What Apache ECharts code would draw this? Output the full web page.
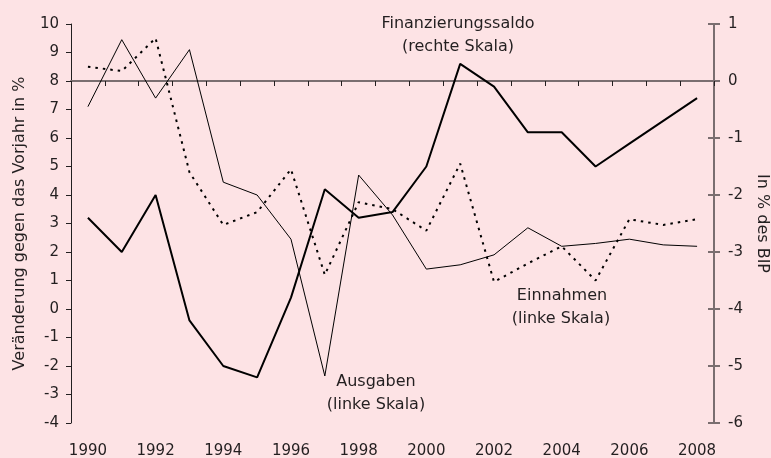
<!DOCTYPE html>
<html>
<head>
<meta charset="utf-8">
<script src="https://cdn.jsdelivr.net/npm/echarts@6/dist/echarts.min.js"></script>
<style>
  html, body { margin: 0; padding: 0; background: #fde3e5; }
  #main { width: 771px; height: 458px; }
</style>
</head>
<body>
<div id="main"></div>
<script>
var years = ['1990', '1991', '1992', '1993', '1994', '1995', '1996', '1997', '1998', '1999',
             '2000', '2001', '2002', '2003', '2004', '2005', '2006', '2007', '2008'];
// Veränderung gegen Vorjahr in % (linke Skala)
var ausgaben = [7.1, 9.45, 7.4, 9.1, 4.45, 4.0, 2.45, -2.35, 4.7, 3.3,
                1.4, 1.55, 1.9, 2.85, 2.2, 2.3, 2.45, 2.25, 2.2];
var einnahmen = [8.5, 8.35, 9.5, 4.8, 2.95, 3.4, 4.9, 1.2, 3.75, 3.5,
                 2.75, 5.1, 0.95, 1.6, 2.2, 1.0, 3.15, 2.95, 3.15];
// in % des BIP (rechte Skala)
var saldo = [-2.4, -3.0, -2.0, -4.2, -5.0, -5.2, -3.8, -1.9, -2.4, -2.3,
             -1.5, 0.3, -0.1, -0.9, -0.9, -1.5, -1.1, -0.7, -0.3];

var font = 'DejaVu Sans';
var ink = '#231f20';
var axisGrey = '#7a6e70';

var chart = echarts.init(document.getElementById('main'));

var option = {
    backgroundColor: '#fde3e5',
    animation: false,
    textStyle: { fontFamily: font, color: ink },
    grid: { left: 71, top: 24, width: 643, height: 399, outerBoundsMode: 'none', containLabel: false },
    xAxis: [
        {
            // Nulllinie der rechten Skala mit Ticks
            type: 'category',
            data: years,
            boundaryGap: true,
            axisLine: { onZero: true, onZeroAxisIndex: 1, lineStyle: { color: axisGrey, width: 2 } },
            axisTick: { show: true, interval: 0, length: 5, lineStyle: { color: ink, width: 1 } },
            axisLabel: { show: false },
            splitLine: { show: false }
        },
        {
            type: 'category',
            data: years,
            boundaryGap: true,
            position: 'bottom',
            axisLine: { show: false, onZero: false },
            axisTick: { show: false },
            axisLabel: { interval: 1, fontSize: 15, color: ink, fontFamily: font, margin: 21 },
            splitLine: { show: false }
        }
    ],
    yAxis: [
        {
            type: 'value',
            position: 'left',
            min: -4, max: 10, interval: 1,
            name: 'Veränderung gegen das Vorjahr in %',
            nameLocation: 'middle',
            nameGap: 43,
            nameTextStyle: { fontSize: 16, color: ink, fontFamily: font },
            axisLine: { show: true, lineStyle: { color: ink, width: 1 } },
            axisTick: { show: true, length: 5, lineStyle: { color: ink } },
            axisLabel: { fontSize: 15, color: ink, fontFamily: font, margin: 12 },
            splitLine: { show: false }
        },
        {
            type: 'value',
            position: 'right',
            min: -6, max: 1, interval: 1,
            name: 'In % des BIP',
            nameLocation: 'middle',
            nameRotate: -90,
            nameGap: 38,
            nameTextStyle: { fontSize: 16, color: ink, fontFamily: font },
            axisLine: { show: true, lineStyle: { color: axisGrey, width: 2 } },
            axisTick: { show: true, length: 6, lineStyle: { color: axisGrey, width: 2 } },
            axisLabel: { fontSize: 15, color: ink, fontFamily: font, margin: 14 },
            splitLine: { show: false }
        },
        {
            // Ticks der rechten Achse nach innen
            type: 'value',
            position: 'right',
            min: -6, max: 1, interval: 1,
            axisLine: { show: false },
            axisTick: { show: true, inside: true, length: 6, lineStyle: { color: axisGrey, width: 2 } },
            axisLabel: { show: false },
            splitLine: { show: false }
        }
    ],
    series: [
        {
            name: 'Ausgaben',
            type: 'line',
            data: ausgaben,
            yAxisIndex: 0,
            symbol: 'none',
            lineStyle: { color: '#000', width: 1 }
        },
        {
            name: 'Einnahmen',
            type: 'line',
            data: einnahmen,
            yAxisIndex: 0,
            symbol: 'none',
            lineStyle: { color: '#000', width: 2, type: [2.5, 5] }
        },
        {
            name: 'Finanzierungssaldo',
            type: 'line',
            data: saldo,
            yAxisIndex: 1,
            symbol: 'none',
            lineStyle: { color: '#000', width: 2 }
        }
    ],
    graphic: [
        { type: 'text', x: 458, y: 24, style: { text: 'Finanzierungssaldo', textAlign: 'center', textVerticalAlign: 'middle', font: '16px ' + font, fill: ink } },
        { type: 'text', x: 458, y: 47, style: { text: '(rechte Skala)', textAlign: 'center', textVerticalAlign: 'middle', font: '16px ' + font, fill: ink } },
        { type: 'text', x: 376, y: 382, style: { text: 'Ausgaben', textAlign: 'center', textVerticalAlign: 'middle', font: '16px ' + font, fill: ink } },
        { type: 'text', x: 376, y: 405, style: { text: '(linke Skala)', textAlign: 'center', textVerticalAlign: 'middle', font: '16px ' + font, fill: ink } },
        { type: 'text', x: 562, y: 296, style: { text: 'Einnahmen', textAlign: 'center', textVerticalAlign: 'middle', font: '16px ' + font, fill: ink } },
        { type: 'text', x: 561, y: 319, style: { text: '(linke Skala)', textAlign: 'center', textVerticalAlign: 'middle', font: '16px ' + font, fill: ink } }
    ]
};

chart.setOption(option);
</script>
</body>
</html>
